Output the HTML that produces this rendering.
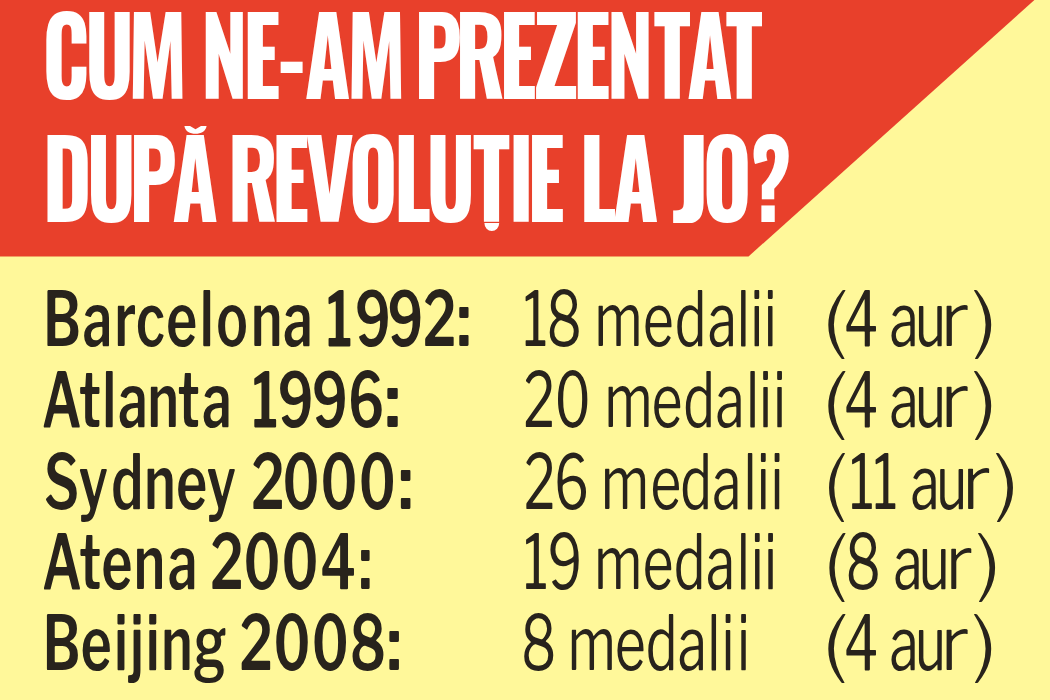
<!DOCTYPE html>
<html lang="ro"><head><meta charset="utf-8"><title>Cum ne-am prezentat după Revoluție la JO?</title>
<style>
html,body{margin:0;padding:0;width:1050px;height:700px;overflow:hidden;background:#fff89a;}
svg{display:block}
text{font-kerning:none;}
.ph{font-family:Oswald,"Liberation Sans",sans-serif;font-weight:700;font-size:106.79px;fill:#fff;}
.pb{font-family:'Libre Franklin',"Liberation Sans",sans-serif;font-weight:600;font-size:76.16px;fill:#28231c;}
.pr{font-family:'Libre Franklin',"Liberation Sans",sans-serif;font-weight:400;font-size:76.16px;fill:#28231c;}
.fh{font-family:'Liberation Sans',"Liberation Sans",sans-serif;font-weight:700;font-size:125.70px;fill:#fff;}
.fb{font-family:'Liberation Sans',"Liberation Sans",sans-serif;font-weight:700;font-size:82.11px;fill:#28231c;}
.fr{font-family:'Liberation Sans',"Liberation Sans",sans-serif;font-weight:400;font-size:82.11px;fill:#28231c;}
.w200{font-weight:200} .w300{font-weight:300} .w400{font-weight:400} .w600{font-weight:600} .w700{font-weight:700}
</style></head><body>
<svg width="1050" height="700" viewBox="0 0 1050 700">
<defs>
<clipPath id="phc" clipPathUnits="userSpaceOnUse"><rect x="-100" y="131.5" width="2000" height="91.5"/></clipPath>
<clipPath id="fhc" clipPathUnits="userSpaceOnUse"><rect x="-100" y="131.5" width="2000" height="91.5"/></clipPath>
</defs>
<rect width="1050" height="700" fill="#fff89a"/>
<polygon points="0,0 1034.4,0 748.5,256.5 0,256.5" fill="#e8402b"/>
<g id="pri">
<text class="ph" transform="scale(0.7872 1)" x="53.8 107.7 162.5 237.7 255.1 308.3 353.2 386.9 440.4 515.6 525.9 577.9 634.0 677.0 727.5 770.5 830.3 872.4 921.7" y="99.0">CUM NE-AM PRE<tspan class="w700" textLength="58.52" lengthAdjust="spacingAndGlyphs">Z</tspan>ENTAT</text>
<text class="ph" transform="scale(0.7872 1)" x="54.1 109.8 164.0 218.6 277.4 289.0 345.0 387.2 442.7 500.3 541.3 600.5 646.0 669.5 717.2 736.0 778.2 837.1 853.4 892.5 954.1" y="221.7" clip-path="url(#phc)">DUPĂ RE<tspan class="w700" textLength="63.29" lengthAdjust="spacingAndGlyphs">V</tspan>OLUȚIE LA <tspan class="w700" textLength="48.81" lengthAdjust="spacingAndGlyphs">J</tspan>O?</text>
<text class="pb" transform="scale(0.6934 1)" x="62.3 119.3 165.0 196.3 239.6 288.5 311.8 362.1 408.6 451.1 470.5 512.0 558.9 610.0 658.5" y="346.4">Barcelona 1992<tspan class="w600" textLength="21.64" lengthAdjust="spacingAndGlyphs">:</tspan></text>
<text class="pr" transform="scale(0.6936 1)" x="754.2 787.8 838.7 857.0 927.1 973.0 1020.4 1062.6 1082.2 1101.6" y="346.4">18 medalii</text>
<text class="pr" transform="scale(0.6936 1)" x="1183.4 1216.9 1266.3 1282.5 1319.5 1355.1 1401.5" y="346.4"><tspan class="w200" textLength="38.51" lengthAdjust="spacingAndGlyphs">(</tspan>4 au<tspan class="w300" textLength="42.68" lengthAdjust="spacingAndGlyphs">r</tspan><tspan class="w200" textLength="38.63" lengthAdjust="spacingAndGlyphs">)</tspan></text>
<text class="pb" transform="scale(0.6934 1)" x="60.3 113.8 147.9 170.4 212.9 256.4 291.6 334.1 363.3 400.6 450.1 502.1 554.2" y="427.4">Atlanta 1996<tspan class="w600" textLength="24.23" lengthAdjust="spacingAndGlyphs">:</tspan></text>
<text class="pr" transform="scale(0.6936 1)" x="754.3 799.6 852.0 871.5 939.6 985.0 1031.5 1075.9 1094.5 1115.0" y="427.4">20 medalii</text>
<text class="pr" transform="scale(0.6936 1)" x="1183.4 1216.9 1266.3 1282.5 1319.5 1355.1 1401.5" y="427.4"><tspan class="w200" textLength="38.51" lengthAdjust="spacingAndGlyphs">(</tspan>4 au<tspan class="w300" textLength="42.68" lengthAdjust="spacingAndGlyphs">r</tspan><tspan class="w200" textLength="38.63" lengthAdjust="spacingAndGlyphs">)</tspan></text>
<text class="pb" transform="scale(0.6934 1)" x="63.4 113.5 160.5 208.0 254.3 298.3 340.5 362.2 407.3 462.2 517.2 574.1" y="508.6">Sydney 2000<tspan class="w600" textLength="22.35" lengthAdjust="spacingAndGlyphs">:</tspan></text>
<text class="pr" transform="scale(0.6936 1)" x="755.0 798.7 849.0 866.4 937.9 980.8 1026.8 1072.3 1091.5 1111.2" y="508.6">26 medalii</text>
<text class="pr" transform="scale(0.6936 1)" x="1185.1 1224.9 1258.7 1294.2 1312.7 1350.1 1386.2 1433.2" y="508.6"><tspan class="w200" textLength="35.82" lengthAdjust="spacingAndGlyphs">(</tspan>11 au<tspan class="w300" textLength="42.68" lengthAdjust="spacingAndGlyphs">r</tspan><tspan class="w200" textLength="38.18" lengthAdjust="spacingAndGlyphs">)</tspan></text>
<text class="pb" transform="scale(0.6934 1)" x="60.5 114.2 146.5 192.9 242.4 284.9 303.2 351.0 405.9 461.8 516.9" y="589.1">Atena 2004<tspan class="w600" textLength="20.00" lengthAdjust="spacingAndGlyphs">:</tspan></text>
<text class="pr" transform="scale(0.6936 1)" x="754.8 789.3 839.4 856.8 926.8 971.5 1018.0 1062.5 1082.6 1101.9" y="589.1">19 medalii</text>
<text class="pr" transform="scale(0.6936 1)" x="1185.4 1218.9 1269.8 1288.1 1324.9 1362.4 1407.1" y="589.1"><tspan class="w200" textLength="36.27" lengthAdjust="spacingAndGlyphs">(</tspan>8 au<tspan class="w300" textLength="40.64" lengthAdjust="spacingAndGlyphs">r</tspan><tspan class="w200" textLength="38.40" lengthAdjust="spacingAndGlyphs">)</tspan></text>
<text class="pb" transform="scale(0.6934 1)" x="61.6 116.3 164.7 187.8 210.7 232.7 279.5 326.9 345.4 394.6 449.5 504.6 557.3" y="670.4">Beijing 2008<tspan class="w600" textLength="22.35" lengthAdjust="spacingAndGlyphs">:</tspan></text>
<text class="pr" transform="scale(0.6936 1)" x="751.3 802.2 818.6 886.8 931.1 977.0 1020.0 1040.6 1062.9" y="670.4">8 medalii</text>
<text class="pr" transform="scale(0.6936 1)" x="1183.4 1216.9 1266.3 1282.5 1319.5 1355.1 1401.5" y="670.4"><tspan class="w200" textLength="38.51" lengthAdjust="spacingAndGlyphs">(</tspan>4 au<tspan class="w300" textLength="42.68" lengthAdjust="spacingAndGlyphs">r</tspan><tspan class="w200" textLength="38.63" lengthAdjust="spacingAndGlyphs">)</tspan></text>
</g>
<path d="M484.4,223 H499.2 A7.4,8 0 0 1 484.4,223 Z M184.4,126 H190 L195.5,129.3 L201,126 H206.6 C205.6,131.6 201,133.8 195.5,133.8 C190,133.8 185.4,131.6 184.4,126 Z" fill="#fff"/>
</svg>
<script>
(function(){
  try {
    var FORCE = false;
    var c = document.createElement('canvas').getContext('2d');
    var s = 'abcdefghijklmnopqrstuvwxyzABCDEFGHIJKLMNOPQRSTUVWXYZ0123456789';
    function has(f, w) {
      c.font = w + ' 72px monospace'; var a = c.measureText(s).width;
      c.font = w + ' 72px "' + f + '", monospace'; var b = c.measureText(s).width;
      return Math.abs(a - b) > 0.5;
    }
    if (FORCE || !(has('Oswald', 700) && has('Libre Franklin', 400))) {
      var F = [["fh","scale(0.5057 1)","85.3 171.2 259.1 363.8 398.3 476.7 555.9 602.8 691.8 796.5 825.1 903.3 983.7 1055.7 1129.4 1200.7 1291.1 1358.5 1433.4",[87.5]],["fh","scale(0.5057 1)","86.9 174.5 261.7 340.7 431.5 453.6 533.8 605.9 689.1 778.6 846.3 933.4 1013.2 1039.0 1122.8 1145.4 1212.0 1302.8 1329.4 1389.3 1487.5",[92.44,70.82]],["fb","scale(0.6819 1)","61.7 117.3 167.2 198.0 243.4 291.9 315.2 366.1 411.5 457.1 473.5 523.7 571.4 621.8 664.5",[31.95]],["fr","scale(0.6538 1)","795.2 840.0 885.7 911.7 984.3 1033.2 1078.6 1127.7 1148.6 1169.1",[]],["fr","scale(0.6538 1)","1260.7 1294.6 1340.3 1356.6 1400.0 1439.0 1489.0",[33.18,42.8,33.17]],["fb","scale(0.6819 1)","61.0 117.9 148.9 169.3 214.4 262.8 292.5 338.1 364.6 410.5 460.8 514.3 557.8",[35.77]],["fr","scale(0.6538 1)","801.2 853.2 898.8 927.1 997.6 1046.0 1090.3 1141.8 1161.6 1183.3",[]],["fr","scale(0.6538 1)","1260.7 1294.6 1340.3 1356.6 1400.0 1439.0 1489.0",[33.18,42.8,33.17]],["fb","scale(0.6819 1)","63.1 113.9 161.7 209.4 258.4 301.8 347.5 369.8 418.6 474.5 530.3 578.5",[32.99]],["fr","scale(0.6538 1)","801.9 851.3 897.0 921.7 995.8 1041.5 1085.4 1138.0 1158.4 1179.2",[]],["fr","scale(0.6538 1)","1262.2 1294.5 1330.4 1376.1 1388.7 1432.5 1472.0 1522.7",[30.87,42.8,32.78]],["fb","scale(0.6819 1)","61.2 118.3 148.8 194.1 242.5 288.1 309.9 361.3 417.2 472.6 520.9",[29.52]],["fr","scale(0.6538 1)","795.8 840.6 886.2 911.5 984.1 1031.6 1076.1 1127.6 1149.0 1169.4",[]],["fr","scale(0.6538 1)","1262.6 1297.3 1342.9 1362.6 1405.9 1446.7 1495.0",[31.26,40.76,32.97]],["fb","scale(0.6819 1)","60.9 118.0 166.0 189.1 212.8 234.6 284.0 334.1 352.7 405.7 461.5 516.6 561.4",[32.99]],["fr","scale(0.6538 1)","801.3 846.9 870.9 941.6 988.8 1032.6 1082.5 1104.4 1128.1",[]],["fr","scale(0.6538 1)","1260.7 1294.6 1340.3 1356.6 1400.0 1439.0 1489.0",[33.18,42.8,33.17]]];
      var ts = document.querySelectorAll('#pri > text');
      for (var i = 0; i < ts.length && i < F.length; i++) {
        var t = ts[i], f = F[i];
        t.setAttribute('class', f[0]); t.setAttribute('transform', f[1]); t.setAttribute('x', f[2]);
        var sp = t.querySelectorAll('tspan');
        for (var j = 0; j < sp.length && j < f[3].length; j++) sp[j].setAttribute('textLength', f[3][j]);
      }
    }
  } catch (e) {}
})();
</script>
</body></html>
